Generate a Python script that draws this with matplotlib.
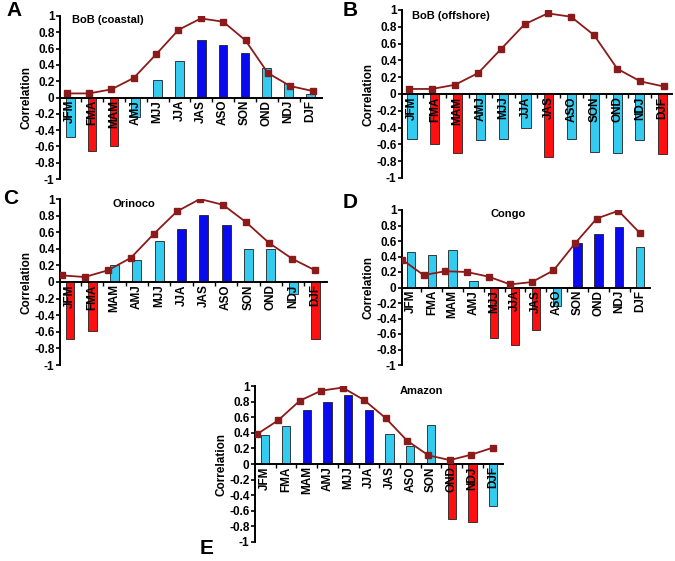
import matplotlib
matplotlib.use("Agg")
import matplotlib.pyplot as plt
import numpy as np

plt.rcParams['font.family'] = ['Liberation Sans', 'DejaVu Sans']
plt.rcParams['font.weight'] = 'bold'

seasons = ["JFM", "FMA", "MAM", "AMJ", "MJJ", "JJA", "JAS", "ASO", "SON", "OND", "NDJ", "DJF"]

# bar values (correlation) and bar colour class: c = cyan, b = blue, r = red
bob_coastal_bars = [-0.49, -0.66, -0.59, -0.24, 0.21, 0.45, 0.70, 0.64, 0.54, 0.36, 0.18, 0.04]
bob_coastal_cls = ['c', 'r', 'r', 'c', 'c', 'c', 'b', 'b', 'b', 'c', 'c', 'c']
bob_coastal_line = [0.05, 0.05, 0.10, 0.24, 0.53, 0.83, 0.97, 0.93, 0.70, 0.30, 0.14, 0.08]

bob_offshore_bars = [-0.54, -0.60, -0.70, -0.55, -0.53, -0.40, -0.75, -0.53, -0.69, -0.70, -0.55, -0.71]
bob_offshore_cls = ['c', 'r', 'r', 'c', 'c', 'c', 'r', 'c', 'c', 'c', 'c', 'r']
bob_offshore_line = [0.06, 0.06, 0.11, 0.25, 0.54, 0.83, 0.96, 0.92, 0.70, 0.30, 0.15, 0.09]

orinoco_bars = [-0.69, -0.59, 0.20, 0.27, 0.50, 0.64, 0.81, 0.69, 0.40, 0.40, -0.15, -0.69]
orinoco_cls = ['r', 'r', 'c', 'c', 'c', 'b', 'b', 'b', 'c', 'c', 'c', 'r']
orinoco_line = [0.08, 0.06, 0.14, 0.29, 0.58, 0.85, 1.00, 0.93, 0.72, 0.47, 0.28, 0.14]

congo_bars = [0.46, 0.42, 0.48, 0.08, -0.65, -0.74, -0.55, -0.24, 0.57, 0.69, 0.78, 0.52]
congo_cls = ['c', 'c', 'c', 'c', 'r', 'r', 'r', 'c', 'b', 'b', 'b', 'c']
congo_line = [0.36, 0.16, 0.21, 0.20, 0.14, 0.04, 0.07, 0.22, 0.57, 0.89, 0.99, 0.70]

amazon_bars = [0.37, 0.49, 0.69, 0.80, 0.88, 0.69, 0.39, 0.23, 0.50, -0.70, -0.74, -0.54]
amazon_cls = ['c', 'c', 'b', 'b', 'b', 'b', 'c', 'c', 'c', 'r', 'r', 'c']
amazon_line = [0.38, 0.56, 0.81, 0.94, 0.98, 0.82, 0.59, 0.30, 0.11, 0.05, 0.12, 0.21]

colors = {'c': '#33CCF0', 'b': '#0A0AEE', 'r': '#FF1010'}
line_col = '#8B1A1A'

W, H = 675, 561
fig = plt.figure(figsize=(W / 100, H / 100), dpi=100)


def rect(l, r, t, b):
    return [l / W, 1 - b / H, (r - l) / W, (b - t) / H]


panels = [
    # letter, title, bars, classes, line, axes rect, bar xlim, line xlim, title pos, letter pos
    ("A", "BoB (coastal)", bob_coastal_bars, bob_coastal_cls, bob_coastal_line,
     rect(60, 322, 16, 179), (-0.47, 11.53), (-0.3, 11.42), (0.046, 0.975), (14, 10)),
    ("B", "BoB (offshore)", bob_offshore_bars, bob_offshore_cls, bob_offshore_line,
     rect(402, 672, 10, 178), (-0.44, 11.41), (-0.29, 11.36), (0.037, 0.965), (350, 10)),
    ("C", "Orinoco", orinoco_bars, orinoco_cls, orinoco_line,
     rect(60, 327, 199, 365), (-0.45, 11.52), (-0.07, 11.51), (0.195, 0.97), (11, 198)),
    ("D", "Congo", congo_bars, congo_cls, congo_line,
     rect(402, 650, 210, 365), (-0.43, 11.48), (0.0, 11.46), (0.355, 0.975), (350, 203)),
    ("E", "Amazon", amazon_bars, amazon_cls, amazon_line,
     rect(255, 503, 386, 542), (-0.5, 11.48), (-0.08, 11.47), (0.585, 0.97), (207, 549)),
]

x = np.arange(len(seasons))
yt = np.arange(-1, 1.01, 0.2)

for letter, title, bars, cls, line, r, bxlim, lxlim, tpos, lpos in panels:
    ax = fig.add_axes(r)
    ax.bar(x, bars, width=0.4, color=[colors[c] for c in cls],
           edgecolor='#202020', linewidth=0.6, zorder=2)
    ax.set_xlim(*bxlim)
    ax.set_ylim(-1, 1)
    ax.set_yticks(yt)
    ax.set_yticklabels(['%g' % round(v, 1) if abs(v) > 1e-9 else '0' for v in yt],
                       fontsize=8.5, fontweight='bold')
    ax.spines['top'].set_visible(False)
    ax.spines['right'].set_visible(False)
    ax.spines['bottom'].set_position(('data', 0))
    ax.spines['left'].set_linewidth(1.4)
    ax.spines['bottom'].set_linewidth(1.4)
    ax.tick_params(axis='y', direction='out', length=3, width=1.2, pad=1)
    ax.set_xticks(np.arange(len(seasons) - 1) + 0.5)
    ax.set_xticklabels([])
    ax.tick_params(axis='x', direction='out', length=3, width=1.0)
    ax.set_ylabel("Correlation", fontsize=8.5, fontweight='bold', labelpad=1)
    for xi, s in zip(x, seasons):
        ax.text(xi, -0.03, s, rotation=90, ha='center', va='top',
                fontsize=8.5, fontweight='bold', color='black', zorder=3)
    ax.text(tpos[0], tpos[1], title, transform=ax.transAxes, ha='left', va='center',
            fontsize=8, fontweight='bold')

    ax2 = ax.twiny()
    ax2.plot(x, line, color=line_col, lw=1.3, marker='s', markersize=4,
             markerfacecolor=line_col, markeredgecolor=line_col, zorder=4)
    ax2.set_xlim(*lxlim)
    ax2.set_ylim(-1, 1)
    ax2.axis('off')

    fig.text(lpos[0] / W, 1 - lpos[1] / H, letter, ha='center', va='center',
             fontsize=15, fontweight='bold')

fig.savefig("out.png", dpi=100)
